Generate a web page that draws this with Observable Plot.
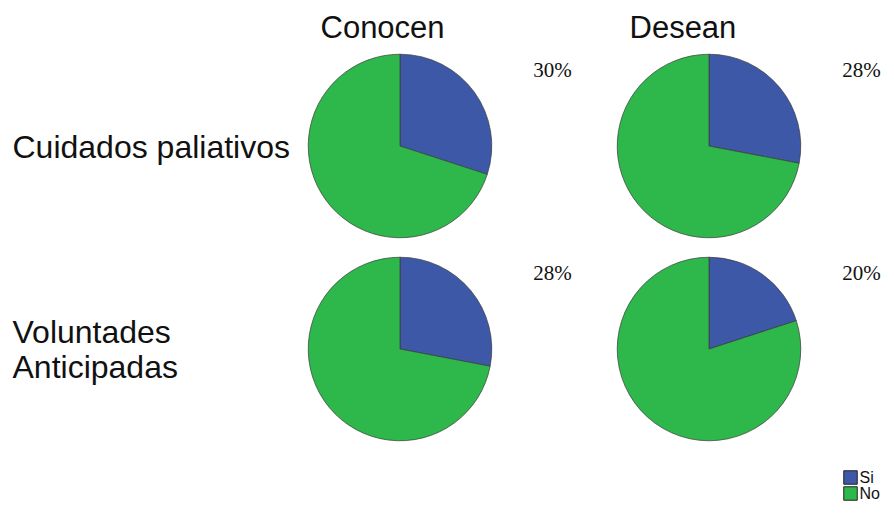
<!DOCTYPE html>
<html><head><meta charset="utf-8">
<script src="https://cdn.jsdelivr.net/npm/d3@7"></script>
<script src="https://cdn.jsdelivr.net/npm/@observablehq/plot@0.6"></script>
<style>body{margin:0;background:#fff}</style>
</head><body><div id="chart"></div>
<script>
const columns = ["Conocen", "Desean"];
const rows = ["Cuidados paliativos", "Voluntades\nAnticipadas"];
const conocenSi = [30, 28];
const deseanSi = [28, 20];
const legendKeys = ["Si", "No"];
const colors = ["#3e58a8", "#2eb74b"];

const cells = [];
rows.forEach((r, i) => {
  cells.push({row: r, col: columns[0], si: conocenSi[i]});
  cells.push({row: r, col: columns[1], si: deseanSi[i]});
});

function pies(index, scales) {
  const g = d3.create("svg:g");
  const step = scales.x(columns[1]) - scales.x(columns[0]);
  const r = step * 0.297;
  const arc = d3.arc().innerRadius(0).outerRadius(r);
  const pie = d3.pie().sort(null).value(d => d.value);
  for (const c of cells) {
    const slices = pie([{key: legendKeys[0], value: c.si}, {key: legendKeys[1], value: 100 - c.si}]);
    g.append("g")
      .attr("transform", `translate(${scales.x(c.col)},${scales.y(c.row)})`)
      .selectAll("path").data(slices).join("path")
      .attr("d", arc)
      .attr("fill", d => scales.color(d.data.key))
      .attr("stroke", "#3a3a3a")
      .attr("stroke-width", 0.7);
  }
  return g.node();
}

const sans = "Liberation Sans, Arial, sans-serif";
const marks = [
  pies,
  Plot.text(cells, {x: "col", y: "row", text: d => d.si + "%", dx: 152, dy: -70, lineAnchor: "bottom",
    fontFamily: "Liberation Serif, Times New Roman, serif", fontSize: 21, fill: "#111"}),
  Plot.text(columns, {x: d => d, y: () => rows[0], textAnchor: "start", dx: -80, dy: -109, lineAnchor: "bottom",
    fontFamily: sans, fontSize: 31, fill: "#111"}),
  Plot.text(rows, {y: d => d, frameAnchor: "left", textAnchor: "start", dx: 12, lineAnchor: "middle",
    lineHeight: 1.1, fontFamily: sans, fontSize: 32, fill: "#111"})
];
legendKeys.forEach((k, i) => {
  marks.push(Plot.dot([k], {x: () => columns[1], y: () => rows[1], dx: 141, dy: 128 + 16 * i,
    symbol: "square", r: 7.6, fill: d => d, stroke: "#222", strokeWidth: 1}));
  marks.push(Plot.text([k], {x: () => columns[1], y: () => rows[1], dx: 150, dy: 128 + 16 * i,
    textAnchor: "start", lineAnchor: "middle", text: d => d, fontFamily: sans, fontSize: 16, fill: "#111"}));
});

const chart = Plot.plot({
  width: 894,
  height: 516,
  marginTop: 0, marginRight: 0, marginBottom: 0, marginLeft: 0,
  x: {type: "point", domain: columns, range: [400, 709], padding: 0, axis: null},
  y: {type: "point", domain: rows, range: [146, 349], padding: 0, axis: null},
  color: {domain: legendKeys, range: colors},
  style: {background: "#fff"},
  marks
});
document.getElementById("chart").append(chart);
</script>
</body></html>
